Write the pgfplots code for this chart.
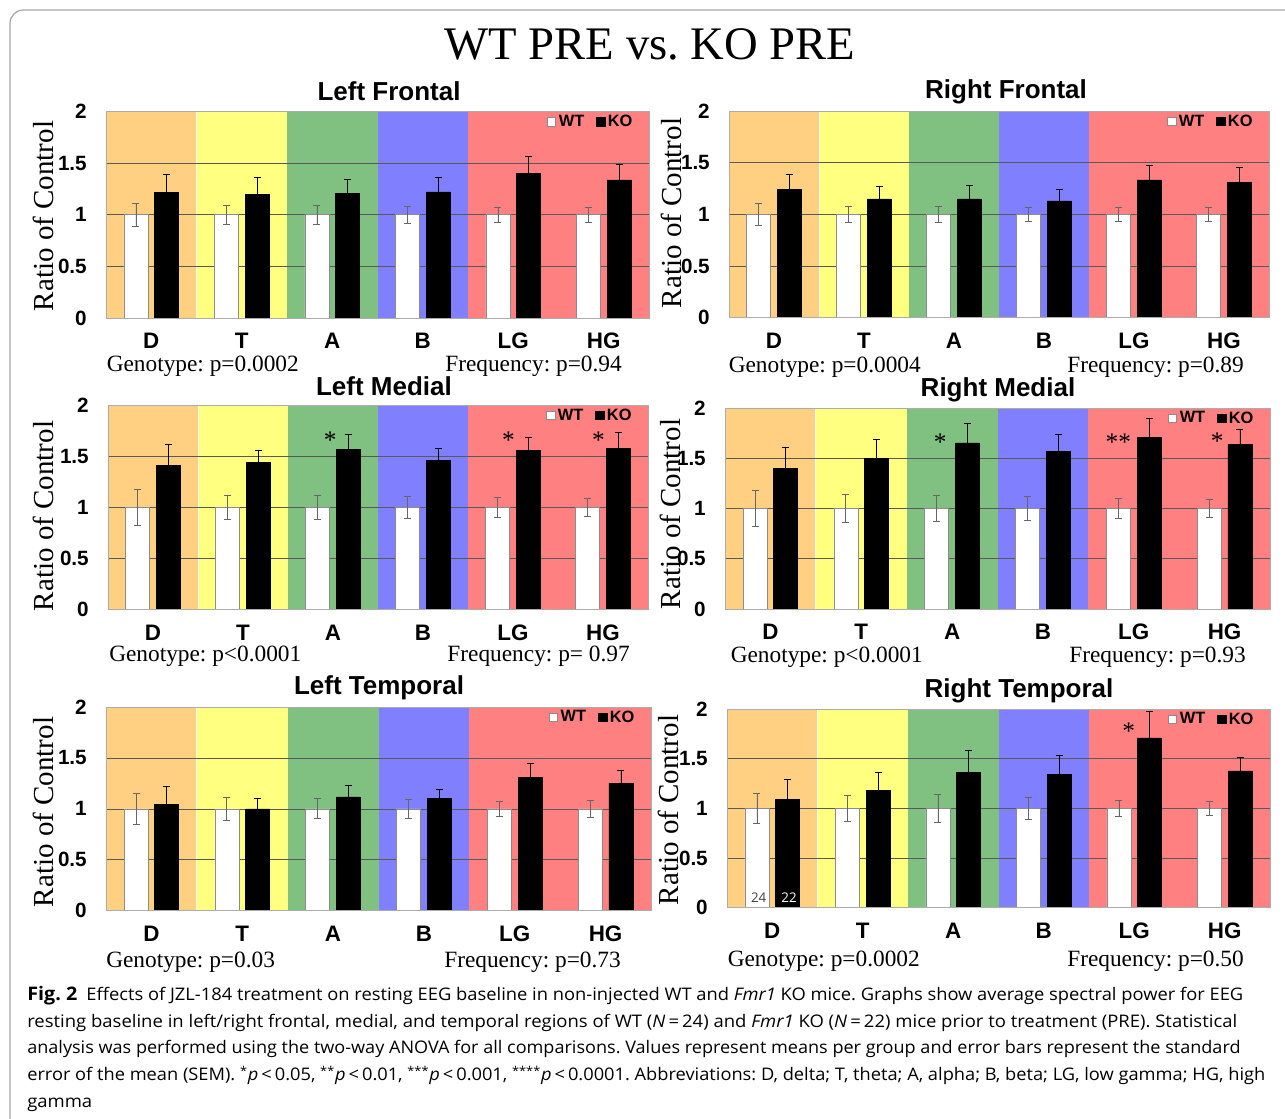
\documentclass[border=0pt]{standalone}
\usepackage{fontspec}
\setmainfont{Liberation Serif}
\setsansfont{Liberation Sans}
\newfontfamily\capfont{Open Sans}
\usepackage{graphicx}
\usepackage{pgfplots}
\usepackage{pgfplotstable}
\pgfplotsset{compat=1.18}

\definecolor{cD}{RGB}{255,208,130}
\definecolor{cT}{RGB}{255,255,128}
\definecolor{cA}{RGB}{128,192,128}
\definecolor{cB}{RGB}{128,128,255}
\definecolor{cL}{RGB}{255,128,128}

\pgfplotstableread{
x wt wte ko koe
0 1 0.11 1.214 0.18
1 1 0.09 1.197 0.16
2 1 0.09 1.204 0.14
3 1 0.08 1.22 0.14
4 1 0.07 1.40 0.165
5 1 0.07 1.337 0.15
}\LF
\pgfplotstableread{
x wt wte ko koe
0 1 0.11 1.24 0.15
1 1 0.08 1.149 0.12
2 1 0.08 1.149 0.126
3 1 0.07 1.13 0.11
4 1 0.07 1.333 0.143
5 1 0.07 1.307 0.143
}\RF
\pgfplotstableread{
x wt wte ko koe
0 1 0.175 1.406 0.21
1 1 0.12 1.435 0.123
2 1 0.12 1.568 0.14
3 1 0.11 1.455 0.116
4 1 0.10 1.552 0.133
5 1 0.09 1.578 0.15
}\LM
\pgfplotstableread{
x wt wte ko koe
0 1 0.18 1.397 0.212
1 1 0.14 1.50 0.185
2 1 0.13 1.652 0.192
3 1 0.12 1.57 0.165
4 1 0.10 1.709 0.185
5 1 0.09 1.639 0.15
}\RM
\pgfplotstableread{
x wt wte ko koe
0 1 0.156 1.042 0.176
1 1 0.114 1.0 0.098
2 1 0.098 1.117 0.118
3 1 0.091 1.101 0.094
4 1 0.072 1.309 0.137
5 1 0.085 1.251 0.124
}\LT
\pgfplotstableread{
x wt wte ko koe
0 1 0.151 1.087 0.202
1 1 0.131 1.178 0.188
2 1 0.138 1.362 0.222
3 1 0.107 1.339 0.191
4 1 0.077 1.708 0.269
5 1 0.07 1.376 0.141
}\RT

\newcommand\bands{%
 \fill[cD] (axis cs:-0.5,0) rectangle (axis cs:0.5,2);
 \fill[cT] (axis cs:0.5,0) rectangle (axis cs:1.5,2);
 \fill[cA] (axis cs:1.5,0) rectangle (axis cs:2.5,2);
 \fill[cB] (axis cs:2.5,0) rectangle (axis cs:3.5,2);
 \fill[cL] (axis cs:3.5,0) rectangle (axis cs:5.5,2);
 \draw[white, line width=0.7pt] (axis cs:0.5,0) -- (axis cs:0.5,2);
 \draw[black!65, line width=0.5pt] (axis cs:-0.5,0.5) -- (axis cs:5.5,0.5);
 \draw[black!65, line width=0.5pt] (axis cs:-0.5,1) -- (axis cs:5.5,1);
 \draw[black!65, line width=0.5pt] (axis cs:-0.5,1.5) -- (axis cs:5.5,1.5);
}
\newcommand\bars[1]{%
 \addplot[fill=white, draw=gray!90, line width=0.5pt,
   error bars/y dir=both, error bars/y explicit,
   error bars/error bar style={black!60, line width=0.6pt},
   error bars/error mark options={rotate=90, mark size=2.6pt, black!60, line width=0.6pt}]
   table[x=x, y=wt, y error=wte] {#1};
 \addplot[fill=black, draw=black, line width=0.5pt,
   error bars/y dir=both, error bars/y explicit,
   error bars/error bar style={black, line width=0.6pt},
   error bars/error mark options={rotate=90, mark size=2.6pt, black, line width=0.6pt}]
   table[x=x, y=ko, y error=koe] {#1};
 \legend{WT,KO}
}
\newcommand\sig[3]{\node[font=\fontsize{19}{19}\selectfont, inner sep=0pt] at (axis cs:#1,#2) {#3};}
\newcommand\legfont{\sffamily\bfseries\fontsize{12.3}{13}\selectfont}

\pgfplotsset{
 eeg/.style={
  scale only axis, anchor=south west,
  xmin=-0.5, xmax=5.5, ymin=0, ymax=2,
  ybar=5pt, bar width=0.265,
  axis on top,
  axis line style={draw=gray!65, line width=0.6pt},
  xtick={0,1,2,3,4,5}, xticklabels={D,T,A,B,LG,HG},
  ytick={0,0.5,1,1.5,2}, yticklabels={0,0.5,1,1.5,2},
  major tick length=0pt,
  xticklabel style={font=\sffamily\bfseries\fontsize{16.8}{17}\selectfont, anchor=center, yshift=-17.25pt},
  yticklabel style={font=\sffamily\bfseries\fontsize{15.5}{16}\selectfont, anchor=east, inner sep=0pt, xshift=-14.25pt},
  legend style={draw=none, fill=none, font=\legfont,
    nodes={font=\legfont, inner xsep=2pt, inner ysep=1pt},
    legend columns=2, at={(0.975,0.99)}, anchor=north east, inner sep=0pt,
    /tikz/every even column/.append style={column sep=7pt}},
  legend image code/.code={\draw[##1, line width=0.5pt] (0pt,-3.3pt) rectangle (6.2pt,3.3pt);},
  clip=false,
 },
}

\newcommand\capsize{\capfont\fontsize{13}{15}\selectfont}
\newcommand\capline[2]{\resizebox{#1}{\height}{\capsize #2}}

\begin{document}
\frenchspacing
\begin{tikzpicture}
\useasboundingbox (0,0) rectangle (963.75pt,839.25pt);

\begin{scope}[x=0.75pt,y=0.75pt]
 \draw[gray!70, line width=0.9pt, rounded corners=10pt] (10,-40) rectangle (1300,1109);
 \node[font=\fontsize{35}{40}\selectfont, anchor=base] at (650,1059) {WT PRE vs. KO PRE};
\end{scope}

% Left Frontal
\begin{axis}[eeg, at={(79.5pt,600.75pt)}, width=407.25pt, height=154.9pt]
 \bands
 \bars{\LF}
\end{axis}
% Right Frontal
\begin{axis}[eeg, at={(546.75pt,601pt)}, width=405pt, height=155pt]
 \bands
 \bars{\RF}
\end{axis}
% Left Medial
\begin{axis}[eeg, at={(81pt,382pt)}, width=405pt, height=153.5pt]
 \bands
 \bars{\LM}
 \sig{1.97}{1.66}{*}
 \sig{3.95}{1.66}{*}
 \sig{4.95}{1.66}{*}
\end{axis}
% Right Medial
\begin{axis}[eeg, at={(543.75pt,382.5pt)}, width=408.75pt, height=150.75pt]
 \bands
 \bars{\RM}
 \sig{1.87}{1.66}{*}
 \sig{3.83}{1.66}{**}
 \sig{4.92}{1.67}{*}
\end{axis}
% Left Temporal
\begin{axis}[eeg, at={(79.5pt,156.2pt)}, width=408.75pt, height=152.8pt]
 \bands
 \bars{\LT}
\end{axis}
% Right Temporal
\begin{axis}[eeg, at={(545.25pt,158.5pt)}, width=407.25pt, height=149pt]
 \bands
 \bars{\RT}
 \sig{3.94}{1.78}{*}
 \node[font=\capfont\fontsize{10}{10}\selectfont, text=black!75, inner sep=0pt] at (axis cs:-0.15,0.1) {24};
 \node[font=\capfont\fontsize{10}{10}\selectfont, text=white, inner sep=0pt] at (axis cs:0.185,0.1) {22};
\end{axis}

\begin{scope}[x=0.75pt,y=0.75pt]
 % panel titles
 \begin{scope}[every node/.style={font=\sffamily\bfseries\fontsize{19.5}{20}\selectfont, anchor=base}]
  \node at (389,1018) {Left Frontal};
  \node at (1006,1020.5) {Right Frontal};
  \node at (384,723) {Left Medial};
  \node at (998,722) {Right Medial};
  \node at (379,424) {Left Temporal};
  \node at (1019,421) {Right Temporal};
 \end{scope}
 % y labels
 \begin{scope}[every node/.style={font=\fontsize{21.75}{22}\selectfont, rotate=90, anchor=center}]
  \node at (43,903) {Ratio of Control};
  \node at (671,906) {Ratio of Control};
  \node at (43.5,603) {Ratio of Control};
  \node at (670,605) {Ratio of Control};
  \node at (43,307) {Ratio of Control};
  \node at (668.5,309) {Ratio of Control};
 \end{scope}
 % statistics
 \begin{scope}[every node/.style={font=\fontsize{17.5}{18}\selectfont, inner sep=0pt}]
  \node[anchor=base west] at (106.5,747) {Genotype: p=0.0002};
  \node[anchor=base east] at (622,747) {Frequency: p=0.94};
  \node[anchor=base west] at (728.5,746) {Genotype: p=0.0004};
  \node[anchor=base east] at (1244,746) {Frequency: p=0.89};
  \node[anchor=base west] at (109,457) {Genotype: p<0.0001};
  \node[anchor=base east] at (630,457) {Frequency: p= 0.97};
  \node[anchor=base west] at (730.5,456) {Genotype: p<0.0001};
  \node[anchor=base east] at (1246,456) {Frequency: p=0.93};
  \node[anchor=base west] at (106,151) {Genotype: p=0.03};
  \node[anchor=base east] at (621,151) {Frequency: p=0.73};
  \node[anchor=base west] at (727.5,152) {Genotype: p=0.0002};
  \node[anchor=base east] at (1244,152) {Frequency: p=0.50};
 \end{scope}
 % caption
 \begin{scope}[every node/.style={anchor=base west, inner sep=0pt}]
  \node at (27,118) {\capline{912pt}{\textbf{\fontsize{14}{15}\selectfont Fig.~2}\hspace{0.5em}Effects of JZL-184 treatment on resting EEG baseline in non-injected WT and \textit{Fmr1} KO mice. Graphs show average spectral power for EEG}};
  \node at (27,91) {\capline{907.5pt}{resting baseline in left/right frontal, medial, and temporal regions of WT (\textit{N}\,=\,24) and \textit{Fmr1} KO (\textit{N}\,=\,22) mice prior to treatment (PRE). Statistical}};
  \node at (27,65) {\capline{910pt}{analysis was performed using the two-way ANOVA for all comparisons. Values represent means per group and error bars represent the standard}};
  \node at (27,38) {\capline{928.5pt}{error of the mean (SEM). \textsuperscript{*}\textit{p}\,<\,0.05, \textsuperscript{**}\textit{p}\,<\,0.01, \textsuperscript{***}\textit{p}\,<\,0.001, \textsuperscript{****}\textit{p}\,<\,0.0001. Abbreviations: D, delta; T, theta; A, alpha; B, beta; LG, low gamma; HG, high}};
  \node at (27,11) {\capline{48.75pt}{gamma}};
 \end{scope}
\end{scope}
\end{tikzpicture}
\end{document}
